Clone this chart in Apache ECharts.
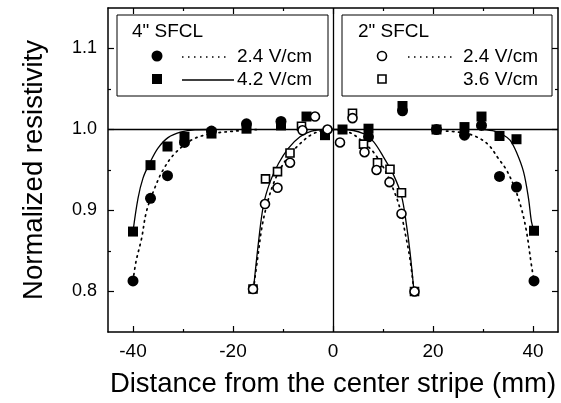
<!DOCTYPE html>
<html>
<head>
<meta charset="utf-8">
<script src="https://cdn.jsdelivr.net/npm/echarts@6/dist/echarts.min.js"></script>
<style>
html,body{margin:0;padding:0;background:#fff;}
#chart{width:561px;height:403px;}
</style>
</head>
<body>
<div id="chart"></div>
<script>
// ---- tick labels ----
var xMajorTicks = [-40, -20, 0, 20, 40];
var xMinorTicks = [-30, -10, 10, 30];
var yMajorTicks = [0.8, 0.9, 1.0, 1.1];
var yMinorTicks = [0.85, 0.95, 1.05];

// ---- 4" SFCL, 2.4 V/cm (filled circles) ----
var sfcl4_24_x = [-40, -36.5, -33.1, -29.7, -24.3, -17.3, -10.4, 7.1, 13.9, 20.7, 26.3, 29.7, 33.3, 36.7, 40.2];
var sfcl4_24_y = [0.813, 0.915, 0.943, 0.984, 0.998, 1.007, 1.010, 0.991, 1.023, 1.000, 0.993, 1.005, 0.942, 0.929, 0.813];
// ---- 4" SFCL, 4.2 V/cm (filled squares) ----
var sfcl4_42_x = [-40, -36.5, -33.1, -29.7, -24.3, -17.3, -10.4, -5.3, -1.6, 1.9, 7.1, 13.9, 20.7, 26.3, 29.7, 33.3, 36.7, 40.2];
var sfcl4_42_y = [0.874, 0.956, 0.979, 0.991, 0.995, 1.001, 1.005, 1.016, 0.993, 1.000, 1.001, 1.029, 1.000, 1.003, 1.016, 0.992, 0.988, 0.875];
// ---- 2" SFCL, 2.4 V/cm (open circles) ----
var sfcl2_24_x = [-16.0, -13.6, -11.1, -8.6, -6.1, -3.6, -1.1, 1.4, 3.9, 6.3, 8.7, 11.3, 13.7, 16.3];
var sfcl2_24_y = [0.803, 0.908, 0.928, 0.959, 0.999, 1.016, 1.000, 0.984, 1.014, 0.972, 0.950, 0.935, 0.896, 0.800];
// ---- 2" SFCL, 3.6 V/cm (open squares) ----
var sfcl2_36_x = [-16.0, -13.5, -11.1, -8.6, -6.3, 3.9, 6.1, 8.9, 11.4, 13.7, 16.3];
var sfcl2_36_y = [0.803, 0.939, 0.948, 0.971, 1.004, 1.020, 0.982, 0.959, 0.951, 0.922, 0.800];

// ---- fitted curves ----
var fit4_24_left_x  = [-40, -39.4, -38.3, -37.3, -35.7, -34.0, -31.7, -28.3, -25.0, -19.7, -15.0];
var fit4_24_left_y  = [0.813, 0.837, 0.865, 0.899, 0.927, 0.950, 0.970, 0.987, 0.994, 0.998, 1.000];
var fit4_24_right_x = [22.7, 26.0, 28.7, 31.1, 33.1, 34.7, 36.4, 37.7, 38.7, 39.7, 40.2];
var fit4_24_right_y = [0.998, 0.996, 0.991, 0.981, 0.964, 0.950, 0.927, 0.902, 0.874, 0.832, 0.813];
var fit4_42_left_x  = [-40, -39.0, -38.0, -36.7, -35.0, -33.0, -30.3, -27.6, -24.0];
var fit4_42_left_y  = [0.874, 0.915, 0.940, 0.958, 0.977, 0.990, 0.997, 0.9995, 1.000];
var fit4_42_right_x = [30.0, 32.3, 34.1, 35.4, 36.7, 38.1, 39.1, 39.7, 40.2];
var fit4_42_right_y = [1.000, 0.998, 0.993, 0.987, 0.972, 0.948, 0.915, 0.886, 0.875];
var fit2_36_x = [-15.9, -14.9, -13.9, -12.6, -10.9, -8.9, -6.6, -4.3, -1.9, 2.0, 6.1, 8.1, 10.1, 12.1, 13.7, 14.7, 15.4, 16.2];
var fit2_36_y = [0.803, 0.861, 0.907, 0.935, 0.958, 0.977, 0.991, 0.998, 1.000, 1.000, 0.995, 0.985, 0.966, 0.944, 0.918, 0.882, 0.849, 0.800];
var fit2_24_x = [-15.9, -15.1, -14.2, -13.1, -11.8, -10.2, -8.5, -6.5, -4.5, -2.5, 0, 3.0, 5.0, 6.8, 8.1, 10.2, 12.4, 13.5, 14.5, 15.4, 16.2];
var fit2_24_y = [0.803, 0.840, 0.880, 0.910, 0.935, 0.955, 0.970, 0.983, 0.993, 0.998, 1.000, 0.997, 0.990, 0.980, 0.972, 0.952, 0.921, 0.900, 0.870, 0.840, 0.800];

function zip(xs, ys){ return xs.map(function(x,i){ return [x, ys[i]]; }); }

var FONT = 'Liberation Sans, Arial, Helvetica, sans-serif';
var chart = echarts.init(document.getElementById('chart'), null, {renderer:'canvas'});

function tickAxis(pos, isX, values, len, showLine){
  return {
    type:'value', position:pos,
    min: isX ? -45 : 0.75, max: isX ? 45 : 1.15,
    axisLine:{show:showLine, onZero:false, lineStyle:{color:'#000', width:1.5}},
    axisTick:{show:true, inside:true, length:len, customValues:values, lineStyle:{color:'#000', width:1.2}},
    axisLabel:{show:false},
    splitLine:{show:false}
  };
}

var xAxes = [
  {
    type:'value', position:'bottom', min:-45, max:45,
    axisLine:{show:true, onZero:false, lineStyle:{color:'#000', width:1.5}},
    axisTick:{show:true, inside:true, length:6, customValues:xMajorTicks, lineStyle:{color:'#000', width:1.2}},
    axisLabel:{show:true, customValues:xMajorTicks, fontSize:19, color:'#000', fontFamily:FONT, margin:10},
    splitLine:{show:false},
    name:'Distance from the center stripe (mm)', nameLocation:'middle', nameGap:38,
    nameTextStyle:{fontSize:27.5, color:'#000', fontFamily:FONT}
  },
  tickAxis('bottom', true, xMinorTicks, 3, false),
  tickAxis('top', true, xMajorTicks, 6, true),
  tickAxis('top', true, xMinorTicks, 3, false)
];
var yAxes = [
  {
    type:'value', position:'left', min:0.75, max:1.15,
    axisLine:{show:true, onZero:false, lineStyle:{color:'#000', width:1.5}},
    axisTick:{show:true, inside:true, length:6, customValues:yMajorTicks, lineStyle:{color:'#000', width:1.2}},
    axisLabel:{show:true, customValues:yMajorTicks, fontSize:18, color:'#000', fontFamily:FONT, margin:11,
      formatter:function(v){ return v.toFixed(1); }},
    splitLine:{show:false},
    name:'Normalized resistivity', nameLocation:'middle', nameGap:60, nameRotate:90,
    nameTextStyle:{fontSize:27.5, color:'#000', fontFamily:FONT}
  },
  tickAxis('left', false, yMinorTicks, 3, false),
  tickAxis('right', false, yMajorTicks, 6, true),
  tickAxis('right', false, yMinorTicks, 3, false)
];

function curve(xs, ys, dotted){
  return {
    type:'line', data: zip(xs, ys), symbol:'none', smooth:0.35, z:3,
    lineStyle:{color:'#000', width: dotted ? 1.7 : 1.3, type: dotted ? [1.5, 4.5] : 'solid', cap:'round'},
    animation:false, silent:true
  };
}
function pts(xs, ys, shape, filled, size){
  return {
    type:'scatter', data: zip(xs, ys), symbol: shape, symbolSize: size, z:5,
    itemStyle:{color: filled ? '#000' : '#fff', borderColor:'#000', borderWidth: filled ? 0 : 1.6, opacity:1},
    animation:false, silent:true
  };
}

var series = [
  {
    type:'line', data:[], symbol:'none', animation:false, silent:true,
    markLine:{silent:true, symbol:['none','none'], label:{show:false}, animation:false,
      lineStyle:{color:'#000', width:1.3, type:'solid'},
      data:[{yAxis:1.0}, {xAxis:0}]}
  },
  curve(fit4_24_left_x, fit4_24_left_y, true),
  curve(fit4_24_right_x, fit4_24_right_y, true),
  curve(fit4_42_left_x, fit4_42_left_y, false),
  curve(fit4_42_right_x, fit4_42_right_y, false),
  curve(fit2_36_x, fit2_36_y, false),
  curve(fit2_24_x, fit2_24_y, true),
  pts(sfcl4_42_x, sfcl4_42_y, 'rect', true, 10),
  pts(sfcl4_24_x, sfcl4_24_y, 'circle', true, 11),
  pts(sfcl2_36_x, sfcl2_36_y, 'rect', false, 8),
  pts(sfcl2_24_x, sfcl2_24_y, 'circle', false, 9)
];

var TXT = {fontSize:19, fill:'#000', fontFamily:FONT};
function t(x, y, s){ return {type:'text', x:x, y:y, style:Object.assign({text:s, verticalAlign:'middle'}, TXT), z:20}; }
var graphic = [
  {type:'rect', shape:{x:117, y:15, width:211, height:81}, style:{fill:'#fff', stroke:'#000', lineWidth:1}, z:10},
  {type:'rect', shape:{x:342, y:15, width:210, height:81}, style:{fill:'#fff', stroke:'#000', lineWidth:1}, z:10},
  t(132, 32, '4" SFCL'),
  {type:'circle', shape:{cx:157, cy:56, r:5.5}, style:{fill:'#000'}, z:20},
  {type:'line', shape:{x1:182, y1:57, x2:228, y2:57}, style:{stroke:'#000', lineWidth:1.6, lineDash:[1.5,4.5]}, z:20},
  t(237, 57, '2.4 V/cm'),
  {type:'rect', shape:{x:152, y:74, width:10, height:10}, style:{fill:'#000'}, z:20},
  {type:'line', shape:{x1:182, y1:80, x2:234, y2:80}, style:{stroke:'#000', lineWidth:1.3}, z:20},
  t(237, 80, '4.2 V/cm'),
  t(358, 32, '2" SFCL'),
  {type:'circle', shape:{cx:382, cy:56, r:4.5}, style:{fill:'#fff', stroke:'#000', lineWidth:1.6}, z:20},
  {type:'line', shape:{x1:408, y1:57, x2:454, y2:57}, style:{stroke:'#000', lineWidth:1.6, lineDash:[1.5,4.5]}, z:20},
  t(463, 57, '2.4 V/cm'),
  {type:'rect', shape:{x:378, y:75, width:8, height:8}, style:{fill:'#fff', stroke:'#000', lineWidth:1.6}, z:20},
  t(463, 80, '3.6 V/cm')
];

chart.setOption({
  animation:false,
  backgroundColor:'#fff',
  grid:{left:108, right:3, top:8, bottom:69, containLabel:false},
  xAxis:xAxes,
  yAxis:yAxes,
  series:series,
  graphic:graphic
});
</script>
</body>
</html>
